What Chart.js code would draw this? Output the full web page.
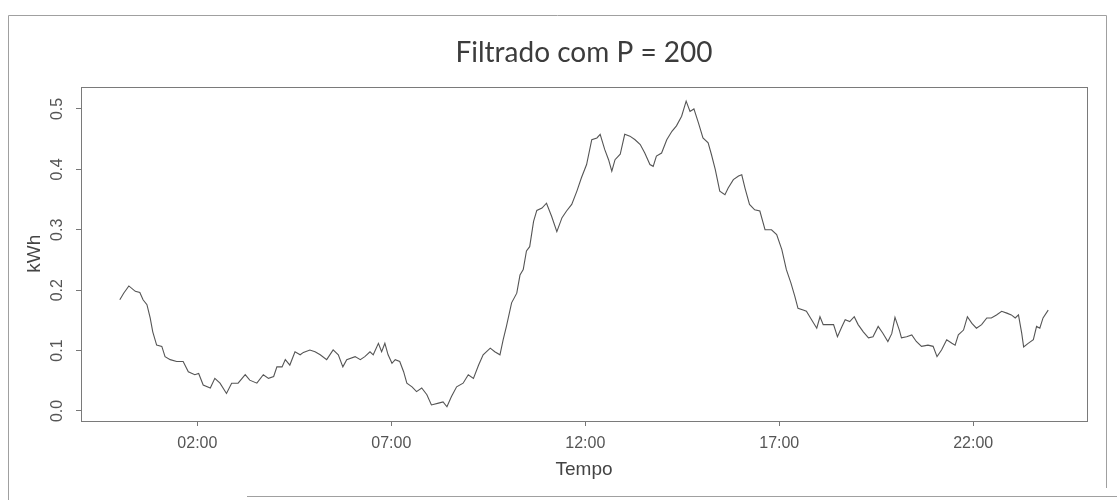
<!DOCTYPE html>
<html>
<head>
<meta charset="utf-8">
<script src="https://cdn.jsdelivr.net/npm/chart.js@4.4.1/dist/chart.umd.min.js"></script>
<style>
  html, body { margin: 0; padding: 0; background: #fff; }
</style>
</head>
<body>
<canvas id="consumo" width="1117" height="500"></canvas>
<script>
// minutos desde 00:00 e consumo filtrado (kWh)
const minutos = [
  0, 6, 14, 24, 31, 36, 42, 47, 51, 57, 65, 70, 78, 88, 98, 106, 116, 122, 129, 140,
  147, 155, 165, 173, 183, 194, 201, 212, 222, 230, 238, 243, 251, 256, 263, 271, 279, 284, 294, 302,
  310, 320, 330, 338, 345, 351, 364, 372, 379, 387, 392, 400, 405, 410, 415, 421, 426, 433, 439, 444,
  452, 459, 467, 475, 482, 493, 500, 506, 513, 521, 531, 539, 547, 555, 562, 573, 580, 588, 593, 598,
  606, 614, 619, 624, 629, 634, 640, 645, 653, 660, 668, 676, 684, 691, 699, 707, 714, 722, 730, 738,
  743, 750, 756, 761, 766, 774, 781, 789, 797, 805, 812, 820, 825, 830, 838, 846, 854, 861, 869, 876,
  882, 888, 895, 902, 910, 915, 921, 928, 936, 941, 949, 957, 962, 967, 974, 982, 990, 998, 1008, 1016,
  1024, 1031, 1038, 1044, 1049, 1057, 1062, 1070, 1078, 1083, 1088, 1096, 1104, 1110, 1117, 1122, 1129, 1136, 1142, 1150,
  1158, 1165, 1173, 1180, 1188, 1194, 1199, 1206, 1209, 1217, 1225, 1232, 1240, 1250, 1258, 1264, 1271, 1279, 1287, 1292,
  1297, 1305, 1311, 1318, 1325, 1333, 1341, 1348, 1356, 1364, 1372, 1379, 1385, 1390, 1395, 1398, 1405, 1413, 1418, 1423,
  1428, 1436
];
const kwh = [
  0.184, 0.195, 0.207, 0.198, 0.196, 0.184, 0.176, 0.154, 0.131, 0.109, 0.107, 0.090, 0.085, 0.082, 0.082, 0.065, 0.060, 0.062, 0.043, 0.038,
  0.054, 0.046, 0.029, 0.046, 0.046, 0.060, 0.051, 0.046, 0.060, 0.054, 0.057, 0.073, 0.073, 0.085, 0.076, 0.098, 0.093, 0.097, 0.101, 0.098,
  0.093, 0.085, 0.101, 0.093, 0.073, 0.085, 0.090, 0.085, 0.090, 0.098, 0.093, 0.112, 0.098, 0.112, 0.093, 0.079, 0.085, 0.082, 0.065, 0.046,
  0.040, 0.032, 0.038, 0.027, 0.010, 0.013, 0.015, 0.007, 0.024, 0.040, 0.046, 0.060, 0.054, 0.076, 0.093, 0.104, 0.098, 0.093, 0.118, 0.140,
  0.179, 0.195, 0.225, 0.234, 0.265, 0.272, 0.314, 0.332, 0.336, 0.344, 0.322, 0.297, 0.320, 0.331, 0.342, 0.364, 0.386, 0.408, 0.449, 0.452,
  0.458, 0.433, 0.416, 0.397, 0.416, 0.425, 0.458, 0.455, 0.449, 0.441, 0.427, 0.408, 0.405, 0.422, 0.427, 0.449, 0.463, 0.472, 0.488, 0.513,
  0.496, 0.500, 0.477, 0.452, 0.444, 0.425, 0.400, 0.364, 0.358, 0.369, 0.383, 0.389, 0.391, 0.369, 0.342, 0.333, 0.331, 0.300, 0.300, 0.292,
  0.267, 0.234, 0.212, 0.190, 0.170, 0.167, 0.165, 0.151, 0.137, 0.156, 0.143, 0.143, 0.143, 0.123, 0.140, 0.151, 0.148, 0.156, 0.143, 0.131,
  0.121, 0.123, 0.140, 0.129, 0.115, 0.128, 0.155, 0.133, 0.121, 0.123, 0.126, 0.115, 0.107, 0.109, 0.107, 0.090, 0.101, 0.118, 0.112, 0.109,
  0.126, 0.134, 0.156, 0.145, 0.137, 0.143, 0.154, 0.154, 0.159, 0.165, 0.162, 0.159, 0.154, 0.159, 0.129, 0.106, 0.112, 0.118, 0.140, 0.137,
  0.154, 0.167
];
const ticksTempo = [120, 420, 720, 1020, 1320];   // 02:00, 07:00, 12:00, 17:00, 22:00
const ticksKwh = [0, 0.1, 0.2, 0.3, 0.4, 0.5];

const pontos = minutos.map((m, i) => ({ x: m, y: kwh[i] }));

function hhmm(m) {
  const h = Math.floor(m / 60), mm = m % 60;
  return String(h).padStart(2, '0') + ':' + String(mm).padStart(2, '0');
}

// moldura externa e caixa da area do grafico
const moldura = {
  id: 'moldura',
  beforeDraw(chart) {
    const c = chart.ctx;
    c.save();
    c.strokeStyle = '#a0a0a0';
    c.lineWidth = 1;
    c.beginPath();
    c.moveTo(8.5, 500); c.lineTo(8.5, 15.5); c.lineTo(1106.5, 15.5); c.lineTo(1106.5, 488);
    c.moveTo(247, 496.5); c.lineTo(1117, 496.5);
    c.stroke();
    c.restore();
  },
  afterDatasetsDraw(chart) {
    const a = chart.chartArea, c = chart.ctx;
    c.save();
    c.strokeStyle = '#7a7a7a';
    c.lineWidth = 1;
    c.strokeRect(Math.round(a.left) + 0.5, Math.round(a.top) + 0.5,
      Math.round(a.right - a.left), Math.round(a.bottom - a.top));
    c.restore();
  }
};

const fonteEixo = { family: '"Liberation Sans", Arial, sans-serif', size: 16 };

new Chart(document.getElementById('consumo').getContext('2d'), {
  type: 'line',
  data: {
    datasets: [{
      data: pontos,
      borderColor: '#555',
      borderWidth: 1.1,
      pointRadius: 0,
      tension: 0,
      fill: false
    }]
  },
  options: {
    responsive: false,
    animation: false,
    layout: { padding: { left: 10, right: 30, top: 0, bottom: 0 } },
    plugins: {
      legend: { display: false },
      tooltip: { enabled: false },
      title: {
        display: true,
        fullSize: false,
        text: 'Filtrado com P = 200',
        color: '#3c3c3c',
        font: { family: 'Lato, "Open Sans", sans-serif', size: 28, weight: 'normal' },
        padding: { top: 36, bottom: 17 }
      }
    },
    scales: {
      x: {
        type: 'linear',
        min: -60,
        max: 1496,
        afterBuildTicks: s => { s.ticks = ticksTempo.map(v => ({ value: v })); },
        afterFit: s => { s.height = 79; },
        border: { display: false },
        grid: { drawOnChartArea: false, drawTicks: true, tickLength: 5, color: '#777' },
        ticks: {
          color: '#555',
          font: fonteEixo,
          padding: 8,
          maxRotation: 0,
          callback: v => hhmm(v)
        },
        title: {
          display: true,
          text: 'Tempo',
          color: '#444',
          font: { family: '"Liberation Sans", Arial, sans-serif', size: 19 },
          padding: { top: 0, bottom: 19 }
        }
      },
      y: {
        min: -0.0166,
        max: 0.537,
        afterBuildTicks: s => { s.ticks = ticksKwh.map(v => ({ value: v })); },
        afterFit: s => { s.width = 71; },
        border: { display: false },
        grid: { drawOnChartArea: false, drawTicks: true, tickLength: 5, color: '#777' },
        ticks: {
          color: '#555',
          font: fonteEixo,
          minRotation: 90,
          maxRotation: 90,
          crossAlign: 'center',
          padding: 7,
          callback: v => v.toFixed(1)
        },
        title: {
          display: true,
          text: 'kWh',
          color: '#444',
          font: { family: '"Liberation Sans", Arial, sans-serif', size: 19 },
          padding: { top: 13, bottom: 0 }
        }
      }
    }
  },
  plugins: [moldura]
});
</script>
</body>
</html>
